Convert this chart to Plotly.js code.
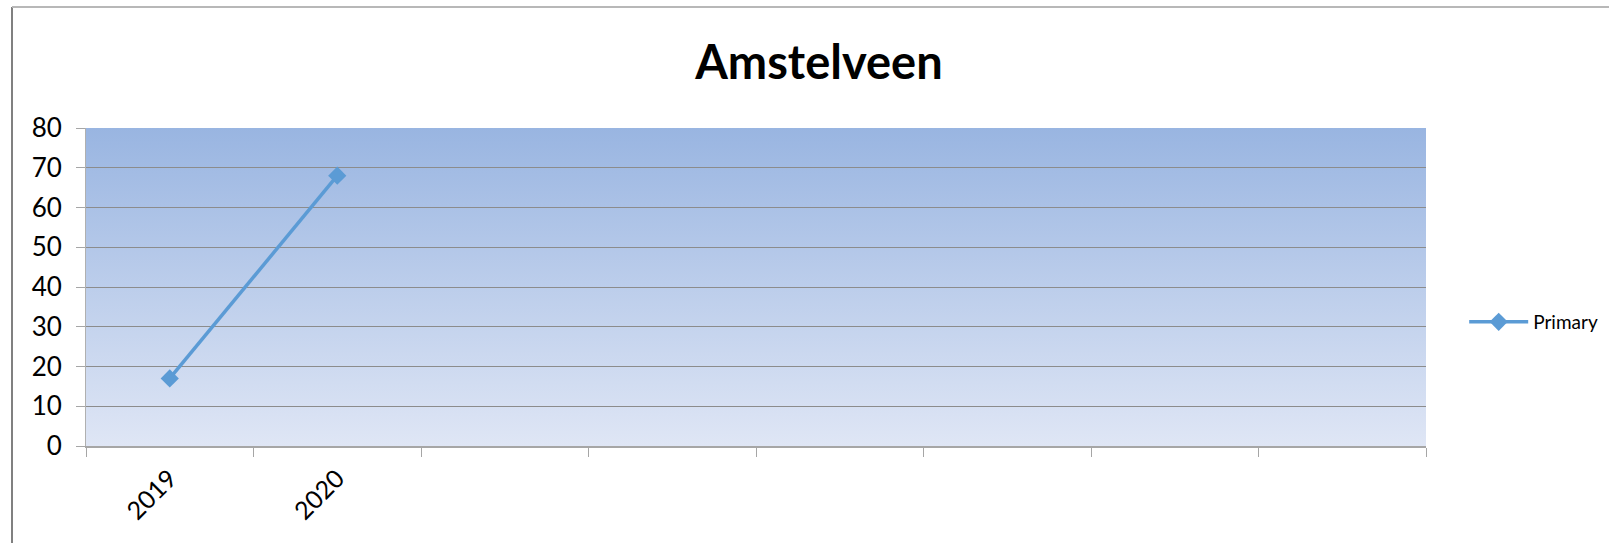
<!DOCTYPE html>
<html>
<head>
<meta charset="utf-8">
<script src="https://cdn.plot.ly/plotly-3.0.1.min.js"></script>
<style>
  html, body { margin: 0; padding: 0; background: #ffffff; overflow: hidden; }
  #chart { width: 1609px; height: 543px; }
</style>
</head>
<body>
<div id="chart"></div>
<script>
// ---- data ----
const categories = ['2019', '2020'];
const primaryValues = [17, 68];
// category slots on the x axis (the empty ones carry no label)
const slotLabels = ['2019', '2020', ' ', '  ', '   ', '    ', '     ', '      '];
const seriesName = 'Primary';
const chartTitle = 'Amstelveen';
const yTickValues = [0, 10, 20, 30, 40, 50, 60, 70, 80];

const gradSvg = "<svg xmlns='http://www.w3.org/2000/svg' width='100' height='100' preserveAspectRatio='none'>" +
  "<defs><linearGradient id='g' x1='0' y1='0' x2='0' y2='1'>" +
  "<stop offset='0' stop-color='rgb(153,181,225)'/>" +
  "<stop offset='1' stop-color='rgb(223,230,245)'/>" +
  "</linearGradient></defs><rect width='100' height='100' fill='url(#g)'/></svg>";
const gradUri = 'data:image/svg+xml;charset=utf-8,' + encodeURIComponent(gradSvg);

const trace = {
  type: 'scatter',
  mode: 'lines+markers',
  x: categories,
  y: primaryValues,
  name: seriesName,
  line: { color: '#5b9bd5', width: 3.5 },
  marker: { symbol: 'diamond', size: 14, color: '#5b9bd5' },
  showlegend: true
};

const FONT = 'Lato, "Open Sans", sans-serif';
const W = 1609, H = 543;
const M = { l: 86, r: 183, t: 128, b: 97 };
const PW = W - M.l - M.r, PH = H - M.t - M.b;
// chart-frame edges (outer border of the chart object), in paper fractions
const frameLeft = (12 - M.l) / PW;
const frameTop = 1 + (M.t - 7) / PH;
const frameRight = (W + 5 - M.l) / PW;
const frameBottom = -(M.b + 5) / PH;

const layout = {
  width: W,
  height: H,
  margin: { l: M.l, r: M.r, t: M.t, b: M.b, pad: 0 },
  paper_bgcolor: '#ffffff',
  plot_bgcolor: 'rgba(0,0,0,0)',
  font: { family: FONT, color: '#000000' },
  title: {
    text: '<b>' + chartTitle + '</b>',
    font: { family: FONT, size: 47, color: '#000000' },
    xref: 'container', x: 0.509, xanchor: 'center',
    yref: 'container', y: 0.884, yanchor: 'middle'
  },
  images: [{
    source: gradUri,
    xref: 'paper', yref: 'paper',
    x: 0, y: 1, sizex: 1, sizey: 1,
    xanchor: 'left', yanchor: 'top',
    sizing: 'stretch', layer: 'below'
  }],
  shapes: [
    { type: 'line', xref: 'paper', yref: 'paper', x0: frameLeft, x1: frameLeft, y0: frameTop, y1: frameBottom,
      line: { color: '#808080', width: 2 }, layer: 'above' },
    { type: 'line', xref: 'paper', yref: 'paper', x0: frameLeft, x1: frameRight, y0: frameTop, y1: frameTop,
      line: { color: '#b8b8b8', width: 2 }, layer: 'above' }
  ],
  xaxis: {
    type: 'category',
    categoryorder: 'array',
    categoryarray: slotLabels,
    range: [-0.5, slotLabels.length - 0.5],
    tickson: 'boundaries',
    ticks: 'outside',
    ticklen: 9,
    tickwidth: 1,
    tickcolor: '#a6a6a6',
    tickangle: -45,
    ticklabelstandoff: 6,
    tickfont: { size: 25, family: FONT, color: '#000000' },
    showline: true,
    linecolor: '#a6a6a6',
    linewidth: 2,
    showgrid: false,
    zeroline: false,
    fixedrange: true
  },
  yaxis: {
    range: [0, 80],
    tickmode: 'array',
    tickvals: yTickValues,
    ticktext: yTickValues.map(String),
    ticks: 'outside',
    ticklen: 9,
    tickwidth: 1,
    tickcolor: '#a6a6a6',
    ticklabelstandoff: 9,
    tickfont: { size: 26, family: FONT, color: '#000000' },
    showline: true,
    linecolor: '#b0b0b0',
    linewidth: 1,
    showgrid: true,
    gridcolor: '#8c8c8c',
    gridwidth: 1,
    zeroline: false,
    fixedrange: true
  },
  legend: {
    xref: 'container', yref: 'container',
    x: 0.910, xanchor: 'left',
    y: 1 - 322 / 543, yanchor: 'middle',
    itemwidth: 59,
    font: { size: 19, family: FONT, color: '#000000' },
    bgcolor: 'rgba(0,0,0,0)'
  },
  showlegend: true
};

Plotly.newPlot('chart', [trace], layout, { displayModeBar: false, staticPlot: true });
</script>
</body>
</html>
